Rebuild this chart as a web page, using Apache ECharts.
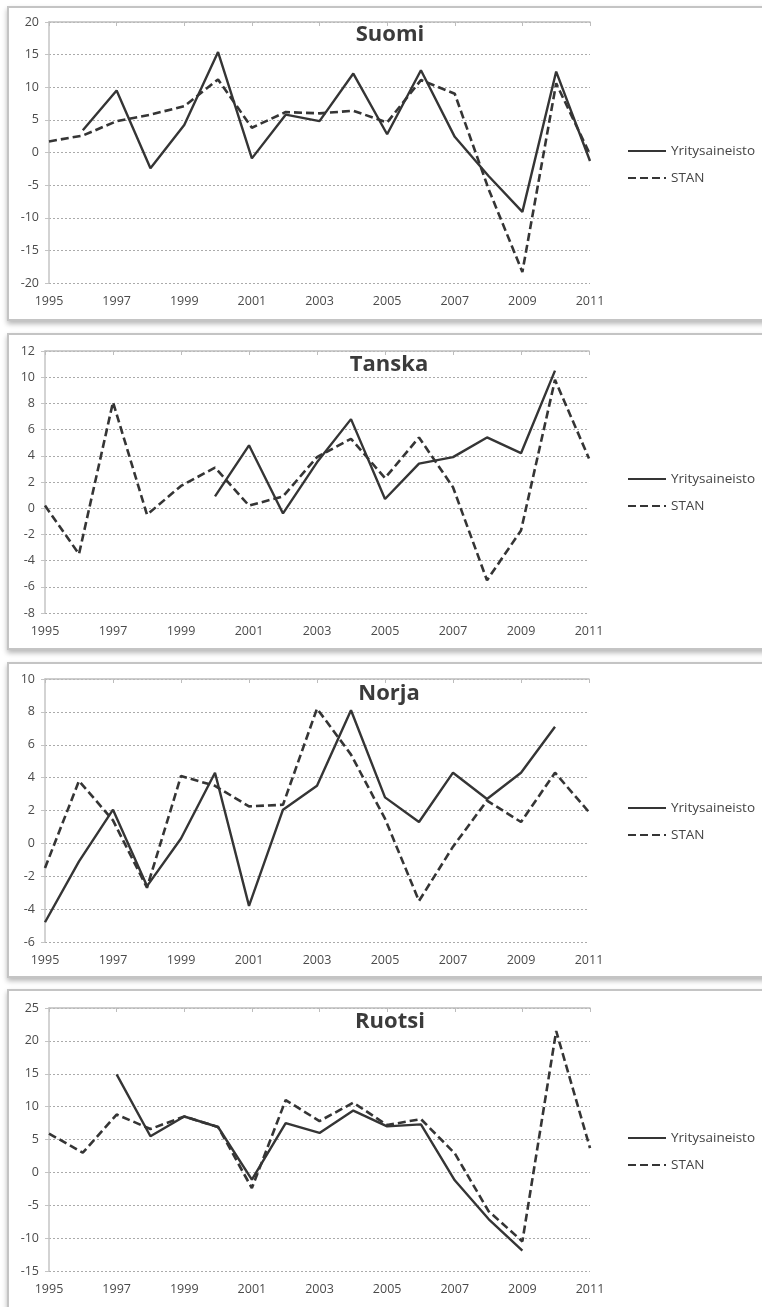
<!DOCTYPE html>
<html>
<head>
<meta charset="utf-8">
<script src="https://cdn.jsdelivr.net/npm/echarts@6/dist/echarts.min.js"></script>
<style>
  body { margin: 0; width: 762px; height: 1307px; overflow: hidden; position: relative; background: #fff; }
  .frame { position: absolute; left: 7px; width: 770px; border: 2px solid #c4c4c4; background: #fff; box-shadow: 0 3px 5px rgba(0,0,0,0.28); }
  .chart { position: absolute; left: 0; width: 762px; }
</style>
</head>
<body>
<div class="frame" style="top:6px;height:311px"></div>
<div class="frame" style="top:333px;height:313px"></div>
<div class="frame" style="top:662px;height:312px"></div>
<div class="frame" style="top:989px;height:327px"></div>

<div id="suomi" class="chart" style="top:0;height:325px"></div>
<div id="tanska" class="chart" style="top:325px;height:325px"></div>
<div id="norja" class="chart" style="top:650px;height:325px"></div>
<div id="ruotsi" class="chart" style="top:975px;height:332px"></div>

<script>
var years = ['1995', '1996', '1997', '1998', '1999', '2000', '2001', '2002', '2003',
  '2004', '2005', '2006', '2007', '2008', '2009', '2010', '2011']

// Suomi
var suomiYritys = [null, 3.4, 9.5, -2.4, 4.2, 15.4, -0.9, 5.8, 4.8, 12.1, 2.8, 12.6, 2.4, -3.6, -9.1, 12.4, -1.3]
var suomiStan = [1.7, 2.6, 4.8, 5.8, 7.1, 11.2, 3.8, 6.2, 6.0, 6.4, 4.6, 11.1, 9.0, -5.6, -18.3, 10.6, -0.3]

// Tanska
var tanskaYritys = [null, null, null, null, null, 0.9, 4.8, -0.4, 3.5, 6.8, 0.7, 3.4, 3.9, 5.4, 4.2, 10.5, null]
var tanskaStan = [0.2, -3.5, 8.1, -0.5, 1.7, 3.1, 0.2, 0.9, 3.9, 5.3, 2.3, 5.4, 1.6, -5.5, -1.7, 9.8, 3.8]

// Norja
var norjaYritys = [-4.8, -1.1, 2.05, -2.6, 0.3, 4.3, -3.8, 2.05, 3.5, 8.1, 2.8, 1.3, 4.3, 2.7, 4.3, 7.1, null]
var norjaStan = [-1.5, 3.8, 1.4, -2.7, 4.1, 3.5, 2.25, 2.35, 8.2, 5.4, 1.5, -3.5, -0.2, 2.6, 1.3, 4.3, 1.9]

// Ruotsi
var ruotsiYritys = [null, null, 14.9, 5.5, 8.5, 6.9, -1.1, 7.5, 6.0, 9.4, 7.0, 7.3, -1.2, -7.1, -11.9, null, null]
var ruotsiStan = [5.9, 3.0, 8.8, 6.6, 8.5, 6.9, -2.4, 11.0, 7.8, 10.6, 7.2, 8.1, 2.9, -5.9, -10.5, 21.5, 3.7]

var legendNames = ['Yritysaineisto', 'STAN']
var lineColor = '#353535'
var labelColor = '#4a4a4a'
var font = "'Open Sans', sans-serif"

function drawPanel(id, title, yritys, stan, yMin, yMax, yStep, box) {
  var chart = echarts.init(document.getElementById(id))
  chart.setOption({
    backgroundColor: 'transparent',
    animation: false,
    title: {
      text: title,
      left: box.titleX,
      top: box.titleTop,
      textAlign: 'center',
      textStyle: { fontFamily: font, fontWeight: 'bold', fontSize: 22, color: '#3b3b3b' }
    },
    legend: {
      orient: 'vertical',
      left: 622,
      top: box.legendTop,
      itemWidth: 38,
      itemHeight: 12,
      itemGap: 13,
      // only the line sample, no circle on it
      itemStyle: { opacity: 0 },
      data: legendNames,
      textStyle: { fontFamily: font, fontSize: 13.5, color: '#444' }
    },
    grid: { left: box.left, top: box.top, width: box.width, height: box.height },
    xAxis: [
      {
        type: 'category',
        data: years,
        boundaryGap: false,
        axisLine: { show: false },
        axisTick: { show: false },
        splitLine: { show: false },
        axisLabel: { interval: 1, margin: 12, fontFamily: font, fontSize: 12.5, color: labelColor }
      },
      {
        // the zero line with its small ticks
        type: 'category',
        data: years,
        boundaryGap: false,
        position: 'top',
        axisLine: { onZero: true, lineStyle: { color: '#bdbdbd', width: 1.5 } },
        axisTick: { interval: 1, inside: true, length: 4, lineStyle: { color: '#bdbdbd' } },
        axisLabel: { show: false },
        splitLine: { show: false }
      }
    ],
    yAxis: {
      type: 'value',
      min: yMin,
      max: yMax,
      interval: yStep,
      axisLine: { show: true, lineStyle: { color: '#c4c4c4', width: 1.5 } },
      axisTick: { show: true, length: 4, lineStyle: { color: '#c4c4c4' } },
      axisLabel: { margin: 10, fontFamily: font, fontSize: 12.5, color: labelColor },
      splitLine: { lineStyle: { color: '#aaaaaa', width: 1, type: [2, 2] } }
    },
    series: [
      {
        name: 'Yritysaineisto',
        type: 'line',
        xAxisIndex: 0,
        data: yritys,
        symbol: 'none',
        itemStyle: { color: lineColor },
        lineStyle: { color: lineColor, width: 2.4 }
      },
      {
        name: 'STAN',
        type: 'line',
        xAxisIndex: 0,
        data: stan,
        symbol: 'none',
        itemStyle: { color: lineColor },
        lineStyle: { color: lineColor, width: 2.6, type: [8, 4] }
      }
    ]
  })
}

drawPanel('suomi', 'Suomi', suomiYritys, suomiStan, -20, 20, 5,
  { left: 49, top: 22, width: 541, height: 261, titleX: 385, titleTop: 19, legendTop: 139 })
drawPanel('tanska', 'Tanska', tanskaYritys, tanskaStan, -8, 12, 2,
  { left: 45, top: 26, width: 544, height: 262, titleX: 384, titleTop: 24, legendTop: 142 })
drawPanel('norja', 'Norja', norjaYritys, norjaStan, -6, 10, 2,
  { left: 45, top: 29, width: 544, height: 263, titleX: 384, titleTop: 28, legendTop: 146 })
drawPanel('ruotsi', 'Ruotsi', ruotsiYritys, ruotsiStan, -15, 25, 5,
  { left: 49, top: 33, width: 541, height: 263, titleX: 385, titleTop: 31, legendTop: 151 })
</script>
</body>
</html>
